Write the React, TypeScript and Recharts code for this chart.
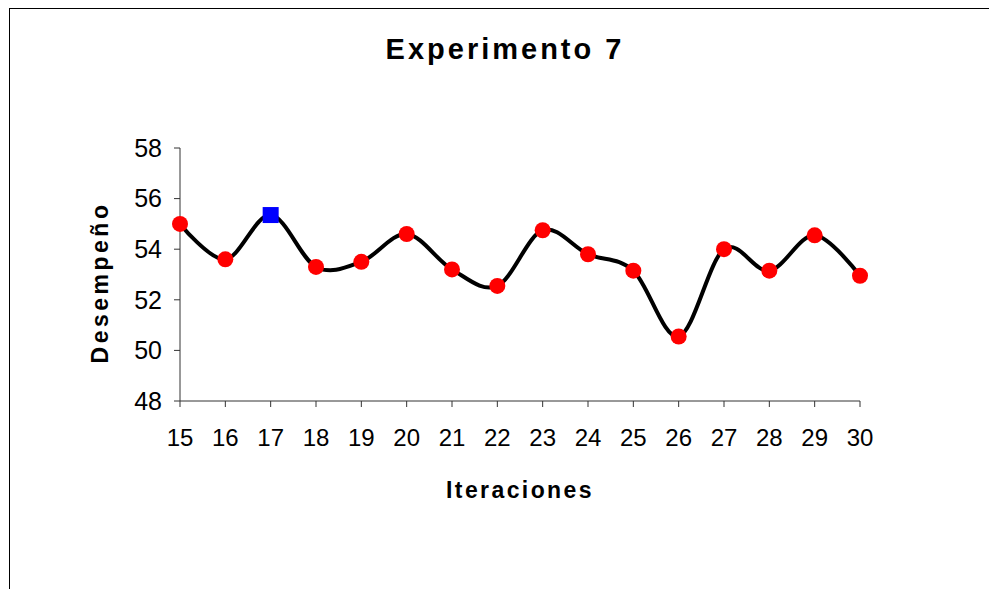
import { LineChart, Line, XAxis, YAxis } from "recharts"

const iteraciones = ["15", "16", "17", "18", "19", "20", "21", "22", "23", "24", "25", "26", "27", "28", "29", "30"]
const desempeno = [55.0, 53.6, 55.35, 53.3, 53.5, 54.6, 53.2, 52.55, 54.75, 53.8, 53.15, 50.55, 54.0, 53.15, 54.55, 52.95]
// iteraciones marcadas con el cuadro azul (mejor resultado)
const destacadas = ["17"]
const yTicks = [48, 50, 52, 54, 56, 58]

const FONT = '"Liberation Sans", Arial, Helvetica, sans-serif'

const data = iteraciones.map((it, i) => ({ iteracion: it, valor: desempeno[i] }))

// spline tipo Catmull-Rom (como el suavizado de Excel)
const curvaSuave = (context: any) => {
  const k = 1 / 6
  let x0 = NaN, y0 = NaN, x1 = NaN, y1 = NaN, x2 = NaN, y2 = NaN
  let n = 0
  const seg = (x: number, y: number) => {
    context.bezierCurveTo(
      x1 + k * (x2 - x0),
      y1 + k * (y2 - y0),
      x2 + k * (x1 - x),
      y2 + k * (y1 - y),
      x2,
      y2
    )
  }
  return {
    areaStart() {},
    areaEnd() {},
    lineStart() {
      x0 = x1 = x2 = y0 = y1 = y2 = NaN
      n = 0
    },
    lineEnd() {
      if (n === 2) context.lineTo(x2, y2)
      else if (n === 3) seg(x1, y1)
    },
    point(x: number, y: number) {
      switch (n) {
        case 0:
          n = 1
          context.moveTo(x, y)
          break
        case 1:
          n = 2
          x1 = x
          y1 = y
          break
        case 2:
          n = 3
          seg(x, y)
          break
        default:
          seg(x, y)
      }
      x0 = x1; x1 = x2; x2 = x
      y0 = y1; y1 = y2; y2 = y
    },
  }
}

const Marcador = (props: any) => {
  const { cx, cy, payload, index } = props
  if (cx == null || cy == null) return null
  if (destacadas.includes(payload.iteracion)) {
    return <rect key={`m-${index}`} x={cx - 8} y={cy - 8} width={16} height={16} fill="#0000FF" />
  }
  return <circle key={`m-${index}`} cx={cx} cy={cy} r={8} fill="#FF0000" />
}

const EtiquetaY = (props: any) => {
  const { x, y, height } = props.viewBox
  const lx = x + 28
  const ly = y + height / 2 + 8
  return (
    <text
      x={lx}
      y={ly}
      transform={`rotate(-90, ${lx}, ${ly})`}
      textAnchor="middle"
      fontFamily={FONT}
      fontSize={23}
      fontWeight="bold"
      letterSpacing={3.5}
      fill="#000"
    >
      Desempeño
    </text>
  )
}

export default function App() {
  return (
    <div
      style={{
        position: "fixed",
        left: 0,
        top: 0,
        width: 989,
        height: 589,
        overflow: "hidden",
        background: "#fff",
      }}
    >
      <div
        style={{
          position: "absolute",
          left: 9,
          top: 8,
          width: 1100,
          height: 700,
          border: "1px solid #000",
        }}
      />
      <div
        style={{
          position: "absolute",
          left: 0,
          top: 34,
          width: 1010,
          textAlign: "center",
          fontFamily: FONT,
          fontSize: 29,
          lineHeight: "30px",
          fontWeight: "bold",
          letterSpacing: 3,
          color: "#000",
        }}
      >
        Experimento 7
      </div>
      <div style={{ position: "absolute", left: 0, top: 0 }}>
        <LineChart
          width={989}
          height={589}
          data={data}
          margin={{ top: 148, right: 129, bottom: 91, left: 80 }}
        >
          <XAxis
            dataKey="iteracion"
            height={97}
            stroke="#333"
            tickSize={6}
            tickMargin={22}
            tick={{ fill: "#000", fontSize: 24, fontFamily: FONT }}
            interval={0}
            label={{
              value: "Iteraciones",
              position: "insideBottom",
              offset: 0,
              fill: "#000",
              fontSize: 23,
              fontWeight: "bold",
              fontFamily: FONT,
              letterSpacing: 2.4,
            }}
          />
          <YAxis
            domain={[48, 58]}
            ticks={yTicks}
            width={100}
            stroke="#333"
            tickSize={6}
            tickMargin={12}
            tick={{ fill: "#000", fontSize: 25, fontFamily: FONT }}
            label={<EtiquetaY />}
          />
          <Line
            dataKey="valor"
            type={curvaSuave as any}
            stroke="#000"
            strokeWidth={4}
            dot={Marcador}
            activeDot={false}
            isAnimationActive={false}
          />
        </LineChart>
      </div>
    </div>
  )
}
